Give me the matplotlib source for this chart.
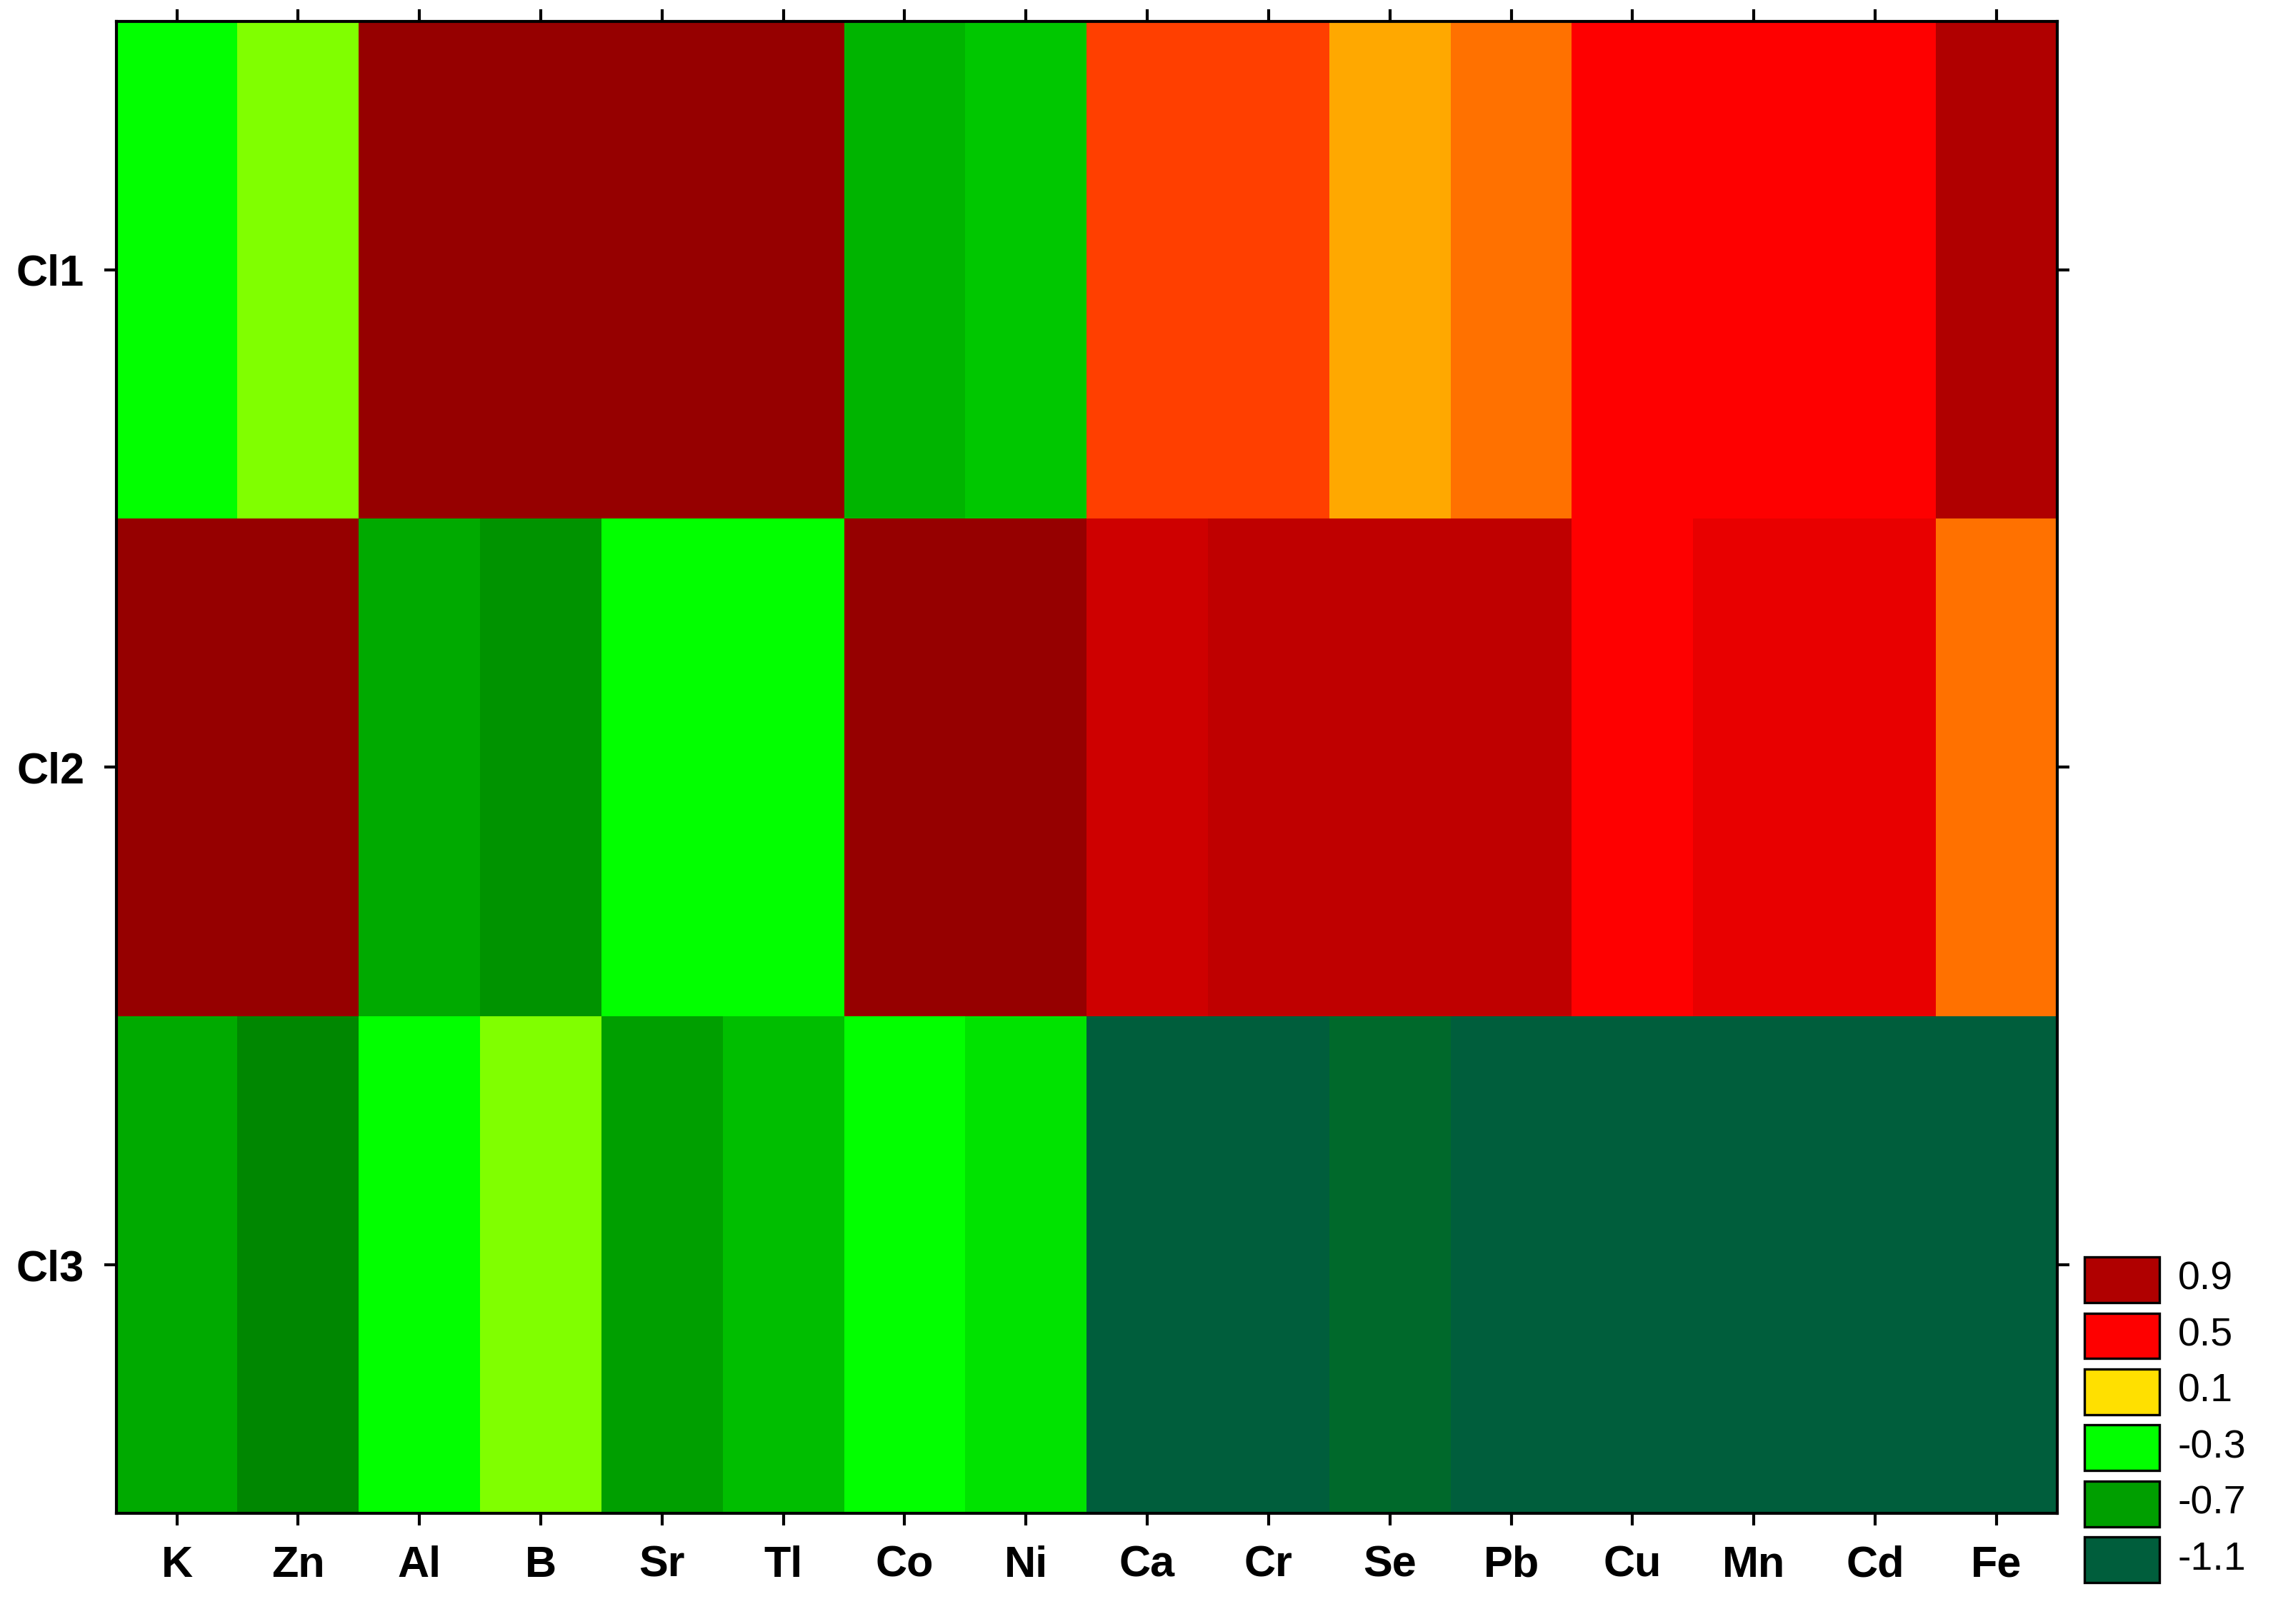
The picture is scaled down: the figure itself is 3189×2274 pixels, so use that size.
import numpy as np
import matplotlib
matplotlib.use("Agg")
import matplotlib.pyplot as plt
from matplotlib.colors import LinearSegmentedColormap
from matplotlib.patches import Rectangle

elements = ["K", "Zn", "Al", "B", "Sr", "Tl", "Co", "Ni",
            "Ca", "Cr", "Se", "Pb", "Cu", "Mn", "Cd", "Fe"]
clusters = ["Cl1", "Cl2", "Cl3"]

cl1 = [-0.3, -0.1, 1.1, 1.1, 1.1, 1.1, -0.6, -0.5,
       0.4, 0.4, 0.2, 0.3, 0.5, 0.5, 0.5, 0.9]
cl2 = [1.1, 1.1, -0.65, -0.75, -0.3, -0.3, 1.1, 1.1,
       0.75, 0.8, 0.8, 0.8, 0.5, 0.6, 0.6, 0.3]
cl3 = [-0.65, -0.8, -0.3, -0.1, -0.7, -0.55, -0.3, -0.4,
       -1.1, -1.1, -1.0, -1.1, -1.1, -1.1, -1.1, -1.1]

legend_levels = [0.9, 0.5, 0.1, -0.3, -0.7, -1.1]

# colour anchors (value, colour)
VMIN, VMAX = -1.1, 1.1
anchors = [(-1.1, "#005e3c"), (-1.0, "#006a2a"), (-0.8, "#008800"),
           (-0.7, "#00a000"), (-0.5, "#00c800"), (-0.3, "#00ff00"),
           (-0.1, "#80ff00"), (0.1, "#ffe000"), (0.2, "#ffaa00"),
           (0.3, "#ff7000"), (0.4, "#ff4000"), (0.5, "#ff0000"),
           (0.6, "#e80000"), (0.75, "#d00000"), (0.8, "#c00000"),
           (0.9, "#b00000"), (1.1, "#960000")]
cmap = LinearSegmentedColormap.from_list(
    "stat", [((v - VMIN) / (VMAX - VMIN), c) for v, c in anchors])

data = np.array([cl1, cl2, cl3])

fig = plt.figure(figsize=(15.945, 11.37), dpi=200)
ax = fig.add_axes([0.051, 0.068, 0.852, 0.919])
ax.pcolormesh(np.arange(len(elements) + 1), np.arange(len(clusters) + 1),
              data, cmap=cmap, vmin=VMIN, vmax=VMAX)
ax.set_xlim(0, len(elements))
ax.set_ylim(len(clusters), 0)

ax.set_xticks(np.arange(len(elements)) + 0.5)
ax.set_xticklabels(elements)
ax.set_yticks(np.arange(len(clusters)) + 0.5)
ax.set_yticklabels(clusters)
for lab in ax.get_xticklabels() + ax.get_yticklabels():
    lab.set_fontfamily("Liberation Sans")
    lab.set_fontweight("bold")
    lab.set_fontsize(22)
ax.tick_params(direction="out", length=6, width=1.5, pad=10,
               top=True, right=True, labeltop=False, labelright=False)
for sp in ax.spines.values():
    sp.set_linewidth(1.5)

# legend
sw_x, sw_w, sw_h = 0.915, 0.033, 0.028
y0 = 0.198
step = 0.0345
for i, lv in enumerate(legend_levels):
    y = y0 - i * step
    fig.patches.append(Rectangle((sw_x, y), sw_w, sw_h, transform=fig.transFigure,
                                 facecolor=cmap((lv - VMIN) / (VMAX - VMIN)),
                                 edgecolor="black", lw=1.2))
    fig.text(sw_x + sw_w + 0.008, y + sw_h / 2, f"{lv:g}", va="center", ha="left",
             fontsize=20, family="Liberation Sans")

fig.savefig("out.png", dpi=200)
